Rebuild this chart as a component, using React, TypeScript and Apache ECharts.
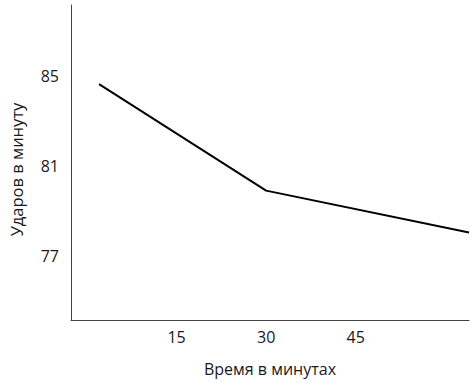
import React, { useEffect, useRef } from "react";
import * as echarts from "echarts";

const timeMinutes = [2, 30, 64];
const heartRate = [84.63, 79.9, 78.04];
const xTickValues = [15, 30, 45];
const yTickValues = [77, 81, 85];
const xAxisTitle = "Время в минутах";
const yAxisTitle = "Ударов в минуту";

export default function App() {
  const ref = useRef<HTMLDivElement>(null);
  useEffect(() => {
    if (!ref.current) return;
    const chart = echarts.init(ref.current, null, { renderer: "svg" });
    const font = "'Open Sans', 'Noto Sans', sans-serif";
    chart.setOption({
      animation: false,
      backgroundColor: "#ffffff",
      grid: { left: 69, top: 5, width: 400, height: 315 },
      xAxis: {
        type: "value",
        min: -2.7,
        max: 64,
        name: xAxisTitle,
        nameLocation: "middle",
        nameGap: 41,
        nameTextStyle: { fontFamily: font, fontSize: 16, color: "#1a1a1a" },
        axisLine: { show: true, onZero: false, lineStyle: { color: "#444", width: 1 } },
        axisTick: { show: false },
        splitLine: { show: false },
        axisLabel: {
          customValues: xTickValues,
          fontFamily: font,
          fontSize: 16,
          color: "#1a1a1a",
          margin: 9,
        },
      },
      yAxis: {
        type: "value",
        min: 74.15,
        max: 88.15,
        name: yAxisTitle,
        nameLocation: "middle",
        nameGap: 46,
        nameTextStyle: {
          fontFamily: font,
          fontSize: 16.5,
          color: "#1a1a1a",
          padding: [0, 14, 0, 0],
        },
        axisLine: { show: true, onZero: false, lineStyle: { color: "#444", width: 1 } },
        axisTick: { show: false },
        splitLine: { show: false },
        axisLabel: {
          customValues: yTickValues,
          fontFamily: font,
          fontSize: 16,
          color: "#1a1a1a",
          margin: 12,
        },
      },
      series: [
        {
          type: "line",
          data: timeMinutes.map((t, i) => [t, heartRate[i]]),
          symbol: "none",
          lineStyle: { color: "#000", width: 2 },
        },
      ],
    });
    return () => chart.dispose();
  }, []);
  return <div ref={ref} style={{ width: 474, height: 384, position: "absolute", left: 0, top: 0 }} />;
}
